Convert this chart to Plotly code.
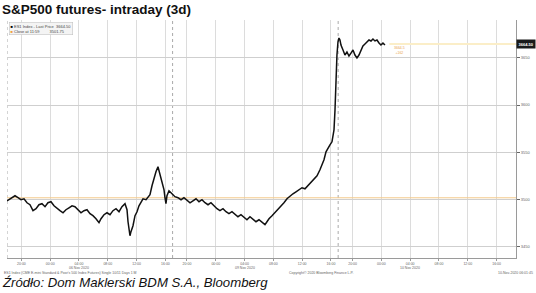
import plotly.graph_objects as go

# trading-hour index (0 = start of first session) and price
hours = [0, 0.42, 0.83, 1.11, 1.53, 1.94, 2.36, 2.78, 3.19, 3.61, 4.03, 4.44, 4.86, 5.28, 5.69, 6.11,
         6.53, 6.94, 7.36, 7.78, 8.19, 8.61, 9.03, 9.44, 9.86, 10.28, 10.69, 11.11, 11.53, 11.94, 12.36,
         12.78, 13.06, 13.47, 13.89, 14.31, 14.72, 15.14, 15.56, 15.97, 16.39, 16.67, 16.81, 16.94, 17.08,
         17.22, 17.5, 17.78, 18.06, 18.33, 18.61, 18.89, 19.31, 19.58, 19.86, 20.14, 20.42, 20.69, 20.97,
         21.25, 21.53, 21.81, 21.94, 22.08, 22.22, 22.5, 22.92,
         23.33, 23.75, 24.17, 24.58, 25, 25.42, 25.83, 26.25, 26.67, 27.08, 27.5, 27.92, 28.33, 28.75,
         29.17, 29.58, 30, 30.42, 30.83, 31.25, 31.67, 32.08, 32.5, 32.92, 33.33, 33.75, 34.17, 34.58, 35,
         35.42, 35.83, 36.11, 36.39, 36.81, 37.22, 37.64, 38.06, 38.47, 38.89, 39.31, 39.72, 40.14, 40.56,
         40.97, 41.39, 41.81, 42.22, 42.64, 43.06, 43.47, 43.75, 44.03, 44.31, 44.58, 44.86, 45.14, 45.42,
         45.56, 45.69, 45.83, 45.97, 46.11, 46.25, 46.39, 46.67, 46.94, 47.22, 47.5, 47.78, 48.06, 48.33,
         48.61, 48.89, 49.17, 49.44, 49.72, 50, 50.28, 50.56, 50.83, 51.11, 51.39, 51.67, 51.94, 52.22, 52.5]
prices = [3498.6, 3500.7, 3502.9, 3503.9, 3501.8, 3499.7, 3500.7, 3496.5, 3494.4, 3488.1, 3490.2, 3494.4,
          3495.5, 3492.3, 3496.5, 3497.6, 3493.3, 3491.2, 3488.1, 3485.9, 3489.1, 3491.2, 3493.3, 3492.3,
          3489.1, 3485.9, 3488.1, 3489.1, 3484.9, 3482.8, 3479.6, 3475.4, 3479.6, 3483.8, 3485.9, 3483.8,
          3488.1, 3490.2, 3487.0, 3492.3, 3495.5, 3489.1, 3476.4, 3468.0, 3461.6, 3465.9, 3472.2, 3482.8,
          3487.0, 3493.3, 3497.6, 3500.7, 3499.7, 3502.9, 3505.0, 3514.5, 3522.9, 3529.3, 3534.6, 3527.2,
          3518.7, 3510.2, 3501.8, 3495.5, 3503.9, 3509.2, 3506.0,
          3502.9, 3501.8, 3499.7, 3501.8, 3498.6, 3496.5, 3498.6, 3500.7, 3497.6, 3499.7, 3496.5, 3494.4,
          3496.5, 3493.3, 3490.2, 3488.1, 3490.2, 3487.0, 3484.9, 3487.0, 3483.8, 3481.7, 3483.8, 3480.7,
          3478.5, 3481.7, 3478.5, 3476.4, 3478.5, 3475.4, 3473.3, 3476.4, 3479.6, 3482.8, 3486.0, 3489.1,
          3492.3, 3496.5, 3500.7, 3503.9, 3506.0, 3508.1, 3510.2, 3512.4, 3511.3, 3514.5, 3517.6, 3520.8,
          3525.0, 3531.4, 3536.7, 3542.0, 3550.4, 3554.6, 3557.8, 3561.0, 3573.7, 3594.8, 3626.5, 3652.9,
          3666.7, 3670.9, 3668.8, 3663.5, 3658.2, 3652.9, 3656.1, 3651.9, 3655.0, 3658.2, 3652.9, 3649.8,
          3652.9, 3658.2, 3662.5, 3664.6, 3666.7, 3668.8, 3667.8, 3669.9, 3667.8, 3668.8, 3665.6, 3663.5,
          3665.6, 3663.5]

close_level = 3501.75
last_price = 3664.50
session_starts = [0, 23, 46]
tick_hours = [2, 6, 10, 14, 18, 22, 25, 29, 33, 37, 41, 45, 48, 52, 56, 60, 64, 68]
tick_labels = ["20:00", "00:00", "04:00", "08:00", "12:00", "16:00",
               "20:00", "00:00", "04:00", "08:00", "12:00", "16:00",
               "20:00", "00:00", "04:00", "08:00", "12:00", "16:00"]
date_hours = [10, 33, 56]
date_labels = ["06 Nov 2020", "09 Nov 2020", "10 Nov 2020"]
y_ticks = [3450, 3500, 3550, 3600, 3650]
x_range = [0, 70.7]
y_range = [3438, 3690]

FONT = "Liberation Sans, Arial, sans-serif"
fig = go.Figure()

fig.add_trace(go.Scatter(x=x_range, y=[close_level, close_level], mode="lines",
                         line=dict(color="#f3c98a", width=1), hoverinfo="skip", showlegend=False))
fig.add_trace(go.Scatter(x=[hours[-1] + 0.6, x_range[1]], y=[last_price, last_price], mode="lines",
                         line=dict(color="#fbeec8", width=2), hoverinfo="skip", showlegend=False))
fig.add_trace(go.Scatter(x=hours, y=prices, mode="lines",
                         line=dict(color="#111111", width=1.5), showlegend=False))

shapes = []
for s in session_starts:
    shapes.append(dict(type="line", xref="x", yref="paper", x0=s, x1=s, y0=0, y1=1,
                       line=dict(color="#aaaaaa", width=1, dash="dot"), layer="below"))

annotations = [
    dict(text="<b>S&P500 futures- intraday (3d)</b>", xref="paper", yref="paper", x=-0.013, y=1.046,
         xanchor="left", yanchor="middle", showarrow=False, font=dict(family=FONT, size=13.5, color="#111")),
    dict(text="<i>Źródło: Dom Maklerski BDM S.A., Bloomberg</i>", xref="paper", yref="paper",
         x=-0.013, y=-0.105, xanchor="left", yanchor="middle", showarrow=False,
         font=dict(family=FONT, size=13.2, color="#111")),
    dict(text="ES1 Index (CME E-mini Standard &amp; Poor's 500 Index Futures) Single 10/11 Days 1 M",
         xref="paper", yref="paper", x=-0.01, y=-0.045, xanchor="left", yanchor="top", showarrow=False,
         font=dict(family=FONT, size=3.5, color="#666")),
    dict(text="Copyright© 2020 Bloomberg Finance L.P.", xref="paper", yref="paper", x=0.55, y=-0.045,
         xanchor="left", yanchor="top", showarrow=False, font=dict(family=FONT, size=3.5, color="#666")),
    dict(text="10-Nov-2020 06:01:45", xref="paper", yref="paper", x=1.038, y=-0.045,
         xanchor="right", yanchor="top", showarrow=False, font=dict(family=FONT, size=3.5, color="#666")),
    dict(text="<span style='color:#000'>■</span> ES1 Index - Last Price  3664.50<br>"
              "<span style='color:#f0a040'>■</span> Close at 11:59         3501.75",
         xref="paper", yref="paper", x=0.003, y=0.992, xanchor="left", yanchor="top", showarrow=False,
         align="left", font=dict(family=FONT, size=4, color="#444"), bgcolor="#f4f4f4",
         bordercolor="#bbbbbb", borderwidth=0.5, borderpad=1),
    dict(text="<b>3664.50</b>", x=1.0, xref="paper", y=last_price, yref="y", xanchor="left",
         showarrow=False, font=dict(family=FONT, size=4, color="white"), bgcolor="#1a1a1a", borderpad=1.5),
    dict(text="3664.5<br>+162", x=hours[-1] + 1.0, xref="x", y=last_price, yref="y", xanchor="left",
         yanchor="top", showarrow=False, font=dict(family=FONT, size=3.5, color="#e9a64a")),
]
for h, d in zip(date_hours, date_labels):
    annotations.append(dict(text=d, x=h, xref="x", y=-0.025, yref="paper", xanchor="center", yanchor="top",
                            showarrow=False, font=dict(family=FONT, size=3.5, color="#666")))

fig.update_layout(
    width=536, height=293, margin=dict(l=7, r=20, t=20, b=35),
    paper_bgcolor="white", plot_bgcolor="white",
    shapes=shapes, annotations=annotations,
    xaxis=dict(range=x_range, tickvals=tick_hours, ticktext=tick_labels, showgrid=True,
               gridcolor="#dcdcdc", gridwidth=1, zeroline=False, showline=True, linecolor="#9a9a9a",
               ticks="outside", ticklen=2, tickcolor="#9a9a9a",
               tickfont=dict(family=FONT, size=3.5, color="#666")),
    yaxis=dict(range=y_range, tickvals=y_ticks, side="right", showgrid=True, gridcolor="#cfcfcf",
               gridwidth=1, zeroline=False, showline=True, linecolor="#9a9a9a", ticks="outside",
               ticklen=3, tickcolor="#666", tickfont=dict(family=FONT, size=4, color="#666")),
)

fig.write_html("out.html")
